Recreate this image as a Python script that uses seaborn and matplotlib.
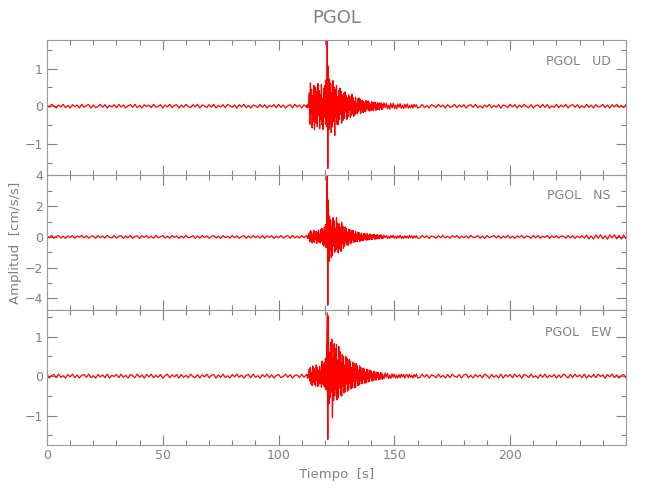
import numpy as np
import matplotlib
matplotlib.use("Agg")
import matplotlib.pyplot as plt
import seaborn as sns
from matplotlib.ticker import MultipleLocator

# sample times (s): quiet part every 1 s, strong motion every 0.25 s, coda every 0.5 s
t_pre = np.arange(0, 113, 1.0)
t_evt = np.arange(112.25, 145.01, 0.25)
t_coda = np.arange(145.5, 160.01, 0.5)
t_post = np.arange(161, 251, 1.0)

# ---- UD component (cm/s/s) ----
ud_pre = [0.04, -0.03, 0.05, 0.01, -0.05, 0.03, -0.02, 0.05, -0.04, 0.02,
          -0.05, 0.04, -0.01, 0.03, -0.05, 0.05, -0.03, 0.02, 0.04, -0.05,
          0.03, -0.04, -0.01, 0.05, -0.03, 0.04, -0.05, 0.02, -0.02, 0.04,
          -0.04, 0.05, -0.02, 0.03, -0.05, 0.01, 0.04, -0.03, 0.05, -0.04,
          0.02, -0.05, 0.04, -0.01, 0.03, -0.04, 0.05, -0.03, -0.01, 0.04,
          -0.05, 0.03, -0.02, 0.05, -0.04, 0.02, 0.04, -0.05, 0.03, -0.03,
          0.05, -0.01, -0.04, 0.04, -0.02, 0.05, -0.05, 0.03, 0.01, -0.04,
          0.04, -0.03, 0.05, -0.05, 0.02, -0.02, 0.04, -0.04, 0.05, 0.01,
          -0.03, 0.03, -0.05, 0.04, -0.02, 0.05, -0.04, 0.02, -0.05, 0.03,
          0.01, -0.04, 0.05, -0.03, 0.04, -0.05, 0.02, -0.01, 0.04, -0.04,
          0.05, -0.03, 0.03, -0.05, 0.01, 0.04, -0.04, 0.05, -0.02, 0.03,
          -0.05, 0.04, -0.03]
ud_evt = [0.03, -0.04, 0.04, -0.03, 0.35, -0.48, 0.62, -0.20,
          0.45, -0.58, 0.28, -0.40, 0.55, -0.62, 0.15, 0.50,
          -0.45, 0.38, -0.55, 0.60, -0.25, 0.42, -0.60, 0.30,
          -0.35, 0.58, -0.50, 0.20, -0.62, 0.48, -0.30, 0.55,
          -0.48, 0.70, -0.55, 1.74, -1.66, 1.05, -0.62, 0.72,
          -0.45, 0.60, -0.70, 0.35, -0.55, 0.68, -0.40, 0.50,
          -0.78, 0.45, -0.30, 0.55, -0.48, 0.25, -0.50, 0.42,
          -0.35, 0.48, -0.22, 0.40, -0.45, 0.30, -0.38, 0.15,
          0.35, -0.32, 0.38, -0.15, 0.28, -0.35, 0.22, -0.28,
          0.30, -0.12, 0.26, -0.30, 0.18, -0.24, 0.32, -0.20,
          0.22, -0.27, 0.12, -0.22, 0.24, -0.18, 0.08, -0.20,
          0.20, -0.15, 0.22, -0.10, 0.18, -0.19, 0.14, -0.08,
          0.16, -0.17, 0.12, -0.14, 0.06, -0.15, 0.15, -0.10,
          0.13, -0.07, 0.14, -0.12, 0.10, -0.13, 0.05, -0.11,
          0.12, -0.10, 0.06, -0.12, 0.11, -0.05, 0.10, -0.11,
          0.04, -0.09, 0.10, -0.08, 0.06, -0.10, 0.09, -0.04,
          0.08, -0.09, 0.05, -0.07]
ud_coda = [0.09, -0.04, 0.08, -0.07, 0.03, -0.08, 0.07, -0.05, 0.08, -0.06,
           0.03, -0.07, 0.06, -0.03, 0.07, -0.06, 0.02, -0.06, 0.05, -0.04,
           0.06, -0.05, 0.02, -0.05, 0.04, -0.05, 0.05, -0.02, 0.04, -0.05]
ud_post = [-0.03, 0.05, -0.04, 0.02, -0.05, 0.04, 0.01, -0.04, 0.05, -0.02,
           0.03, -0.05, 0.04, -0.03, -0.01, 0.05, -0.04, 0.03, -0.02, 0.04,
           -0.05, 0.02, 0.04, -0.03, 0.05, -0.04, 0.01, -0.05, 0.03, -0.02,
           0.05, -0.04, 0.02, -0.03, 0.04, -0.05, 0.03, 0.01, -0.04, 0.05,
           -0.02, 0.04, -0.05, 0.03, -0.03, 0.05, -0.01, -0.04, 0.04, -0.05,
           0.02, 0.03, -0.04, 0.05, -0.03, 0.04, -0.05, 0.01, -0.03, 0.05,
           -0.04, 0.03, -0.02, 0.05, -0.05, 0.02, 0.04, -0.03, 0.04, -0.05,
           0.01, -0.04, 0.05, -0.03, 0.03, -0.05, 0.04, -0.02, -0.01, 0.05,
           -0.04, 0.03, -0.05, 0.04, -0.02, 0.05, -0.03, 0.02, -0.04, 0.04]

# ---- NS component ----
ns_pre = [0.08, -0.06, 0.10, -0.09, 0.03, 0.09, -0.08, 0.05, -0.10, 0.07,
          -0.04, 0.09, -0.09, 0.06, -0.02, 0.10, -0.07, 0.08, -0.09, 0.04,
          0.07, -0.10, 0.09, -0.05, 0.06, -0.08, 0.10, -0.03, -0.07, 0.09,
          -0.08, 0.04, 0.08, -0.10, 0.06, -0.06, 0.09, -0.09, 0.03, 0.07,
          -0.10, 0.08, -0.04, 0.09, -0.07, 0.05, -0.09, 0.10, -0.06, 0.02,
          0.08, -0.08, 0.06, -0.09, 0.09, -0.03, 0.07, -0.10, 0.05, -0.07,
          0.10, -0.05, -0.02, 0.08, -0.09, 0.06, -0.08, 0.09, -0.04, 0.07,
          -0.09, 0.03, 0.09, -0.07, 0.06, -0.10, 0.08, -0.05, 0.04, -0.08,
          0.10, -0.06, 0.07, -0.09, 0.02, 0.08, -0.10, 0.06, -0.07, 0.09,
          -0.04, 0.05, -0.08, 0.10, -0.09, 0.07, -0.03, 0.08, -0.10, 0.06,
          -0.06, 0.09, -0.08, 0.04, 0.07, -0.09, 0.10, -0.07, 0.05, -0.08,
          0.09, -0.06, 0.08]
ns_evt = [0.08, -0.09, 0.06, -0.10, 0.25, -0.32, 0.40, -0.18,
          0.35, -0.40, 0.15, -0.30, 0.42, -0.36, 0.22, -0.15,
          0.38, -0.42, 0.30, -0.22, 0.45, -0.35, 0.18, -0.40,
          0.48, -0.30, 0.55, -0.50, 0.35, -0.60, 0.62, -0.45,
          0.80, -0.70, 1.20, 3.95, -4.45, 2.40, -1.60, 1.35,
          -0.85, 1.10, -1.35, 0.70, -1.20, 1.25, -0.60, 1.05,
          -1.00, 0.55, -0.85, 1.25, -0.70, 0.90, -1.05, 0.45,
          0.85, -0.80, 0.60, -0.95, 0.95, -0.45, 0.70, -0.75,
          0.40, -0.60, 0.65, -0.35, 0.55, -0.50, 0.30, -0.55,
          0.50, -0.25, 0.48, -0.45, 0.25, -0.40, 0.42, -0.20,
          0.42, -0.35, 0.18, -0.32, 0.35, -0.28, 0.15, -0.30,
          0.30, -0.15, 0.28, -0.30, 0.12, -0.26, 0.25, -0.22,
          0.10, -0.24, 0.22, -0.12, 0.22, -0.20, 0.08, -0.21,
          0.21, -0.19, 0.09, -0.20, 0.18, -0.08, 0.18, -0.17,
          0.08, -0.16, 0.15, -0.06, 0.16, -0.14, 0.07, -0.15,
          0.13, -0.05, 0.14, -0.13, 0.06, -0.12, 0.13, -0.04,
          0.12, -0.11, 0.05, -0.12]
ns_coda = [0.11, -0.04, 0.10, -0.11, 0.06, -0.10, 0.09, -0.05, 0.11, -0.09,
           0.04, -0.10, 0.08, -0.06, 0.10, -0.09, 0.03, -0.10, 0.09, -0.07,
           0.05, -0.09, 0.10, -0.04, 0.08, -0.10, 0.07, -0.06, 0.09, -0.08]
ns_post = [-0.08, 0.09, -0.04, 0.07, -0.10, 0.06, 0.02, -0.09, 0.08, -0.06,
           0.10, -0.07, 0.04, -0.09, 0.08, -0.03, 0.09, -0.10, 0.06, -0.05,
           0.07, -0.09, 0.10, -0.04, -0.02, 0.08, -0.08, 0.06, -0.10, 0.09,
           -0.05, 0.03, 0.09, -0.07, 0.08, -0.09, 0.05, -0.06, 0.10, -0.08,
           0.04, -0.10, 0.07, -0.03, 0.09, -0.08, 0.06, 0.02, -0.09, 0.10,
           -0.06, 0.08, -0.09, 0.05, -0.04, 0.09, -0.10, 0.07, -0.05, 0.08,
           -0.08, 0.06, 0.03, -0.09, 0.10, -0.07, 0.08, -0.10, 0.05, -0.06,
           0.09, -0.08, 0.12, -0.13, 0.06, -0.14, 0.13, -0.09, 0.14, -0.12,
           0.08, -0.15, 0.13, -0.07, 0.14, -0.13, 0.10, -0.14, 0.12, -0.11]

# ---- EW component ----
ew_pre = [0.04, -0.05, 0.02, 0.04, -0.04, 0.05, -0.03, 0.01, -0.05, 0.04,
          -0.02, 0.05, -0.04, 0.03, -0.05, 0.02, 0.04, -0.03, 0.05, -0.04,
          0.01, -0.05, 0.04, -0.02, 0.03, -0.04, 0.05, -0.05, 0.02, -0.01,
          0.04, -0.04, 0.05, -0.03, 0.02, -0.05, 0.04, 0.01, -0.04, 0.05,
          -0.03, 0.03, -0.05, 0.04, -0.02, 0.05, -0.04, 0.02, -0.03, 0.04,
          -0.05, 0.01, 0.05, -0.04, 0.03, -0.02, 0.04, -0.05, 0.04, -0.03,
          0.02, -0.04, 0.05, -0.01, -0.04, 0.04, -0.05, 0.03, -0.02, 0.05,
          -0.04, 0.02, 0.04, -0.05, 0.03, -0.03, 0.05, -0.04, 0.01, -0.05,
          0.04, -0.02, 0.05, -0.03, 0.03, -0.05, 0.02, 0.04, -0.04, 0.05,
          -0.03, 0.01, -0.05, 0.04, -0.02, 0.05, -0.04, 0.03, -0.05, 0.02,
          0.04, -0.04, -0.01, 0.05, -0.03, 0.04, -0.05, 0.02, 0.03, -0.04,
          0.05, -0.03, 0.04]
ew_evt = [0.04, -0.05, 0.03, -0.04, 0.18, -0.12, 0.22, -0.20,
          0.10, -0.24, 0.26, -0.15, 0.20, -0.22, 0.12, -0.25,
          0.28, -0.10, 0.22, -0.26, 0.15, -0.20, 0.25, -0.18,
          0.12, -0.28, 0.38, -0.20, 0.30, -0.25, 0.35, -0.28,
          0.45, -0.35, 0.55, 1.60, -1.60, 1.52, -0.70, 0.60,
          -0.55, 0.85, -0.40, 0.93, -1.05, 0.45, -0.62, 0.82,
          -0.50, 0.70, -0.35, 0.80, -0.60, 0.40, -0.55, 0.75,
          -0.30, 0.62, -0.48, 0.35, -0.50, 0.55, -0.25, 0.50,
          -0.42, 0.28, -0.40, 0.50, -0.20, 0.45, -0.38, 0.30,
          -0.35, 0.42, -0.18, 0.38, -0.32, 0.22, -0.30, 0.35,
          -0.14, 0.33, -0.30, 0.20, -0.28, 0.32, -0.12, 0.26,
          -0.24, 0.15, -0.22, 0.26, -0.10, 0.22, -0.20, 0.12,
          -0.19, 0.20, -0.08, 0.18, -0.18, 0.10, -0.17, 0.17,
          -0.07, 0.16, -0.15, 0.06, -0.14, 0.15, -0.05, 0.13,
          -0.12, 0.07, -0.12, 0.12, -0.04, 0.11, -0.10, 0.05,
          -0.10, 0.10, -0.04, 0.09, -0.09, 0.04, -0.08, 0.09,
          -0.04, 0.08, -0.08, 0.03]
ew_coda = [-0.07, 0.08, -0.03, 0.07, -0.06, 0.02, -0.06, 0.06, -0.03, 0.05,
           -0.05, 0.02, -0.05, 0.04, -0.04, 0.05, -0.02, 0.04, -0.05, 0.03,
           0.04, -0.04, 0.05, -0.03, 0.02, -0.05, 0.04, -0.02, 0.05, -0.04]
ew_post = [-0.04, 0.05, -0.02, 0.04, -0.05, 0.03, 0.01, -0.04, 0.05, -0.03,
           0.02, -0.05, 0.04, -0.04, 0.05, -0.01, -0.03, 0.04, -0.05, 0.03,
           0.05, -0.04, 0.02, -0.05, 0.04, -0.02, 0.03, -0.04, 0.05, 0.01,
           -0.05, 0.04, -0.03, 0.02, -0.04, 0.05, -0.05, 0.03, -0.01, 0.04,
           -0.04, 0.05, -0.02, 0.03, -0.05, 0.04, 0.02, -0.04, 0.05, -0.03,
           0.01, -0.05, 0.04, -0.03, 0.05, -0.04, 0.02, -0.02, 0.04, -0.05,
           0.03, -0.04, 0.05, 0.01, -0.05, 0.04, -0.03, 0.05, -0.02, 0.03,
           -0.04, 0.05, -0.05, 0.02, -0.03, 0.04, -0.04, 0.05, -0.01, 0.03,
           -0.05, 0.04, -0.02, 0.05, -0.04, 0.03, -0.05, 0.02, 0.04, -0.04]

components = ["UD", "NS", "EW"]
station = "PGOL"
ylims = [(-1.83, 1.76), (-4.76, 4.03), (-1.74, 1.67)]
ymajor = [1, 2, 1]
yminor = [0.5, 1, 0.5]

t = np.concatenate([t_pre, t_evt, t_coda, t_post])
traces = [np.concatenate([ud_pre, ud_evt, ud_coda, ud_post]),
          np.concatenate([ns_pre, ns_evt, ns_coda, ns_post]),
          np.concatenate([ew_pre, ew_evt, ew_coda, ew_post])]

sns.set_style("ticks")
plt.rcParams['font.family'] = ['Liberation Sans Narrow', 'DejaVu Sans']
grey = '#808080'
plt.rcParams.update({
    'text.color': grey, 'axes.labelcolor': grey,
    'xtick.color': grey, 'ytick.color': grey, 'axes.edgecolor': '#999999',
})

fig, axes = plt.subplots(3, 1, figsize=(6.5, 5), dpi=100, sharex=True)
fig.subplots_adjust(left=0.0723, right=0.963, top=0.92, bottom=0.11, hspace=0)

label_y = [0.84, 0.85, 0.83]
for i, ax in enumerate(axes):
    sns.lineplot(x=t, y=traces[i], ax=ax, color='#ff0000', linewidth=0.9,
                 estimator=None, sort=False)
    ax.set_xlim(0, 250)
    ax.set_ylim(*ylims[i])
    ax.xaxis.set_major_locator(MultipleLocator(50))
    ax.xaxis.set_minor_locator(MultipleLocator(10))
    ax.yaxis.set_major_locator(MultipleLocator(ymajor[i]))
    ax.yaxis.set_minor_locator(MultipleLocator(yminor[i]))
    ax.tick_params(which='both', direction='in', top=True, right=True,
                   labelsize=9, pad=3, width=0.8)
    ax.tick_params(which='major', length=7)
    ax.tick_params(which='minor', length=3.5)
    for s in ax.spines.values():
        s.set_linewidth(0.8)
    ax.set_ylabel('')
    ax.text(0.974, label_y[i], station + '   ' + components[i],
            transform=ax.transAxes, ha='right', va='center', fontsize=9,
            color=grey)

axes[0].set_title('PGOL', fontsize=13, pad=12, color=grey)
axes[1].set_ylabel('Amplitud  [cm/s/s]', fontsize=9.5, labelpad=2)
axes[2].set_xlabel('Tiempo  [s]', fontsize=9.5, labelpad=4)
axes[2].set_xticks([0, 50, 100, 150, 200])

fig.savefig('out.png', dpi=100)
